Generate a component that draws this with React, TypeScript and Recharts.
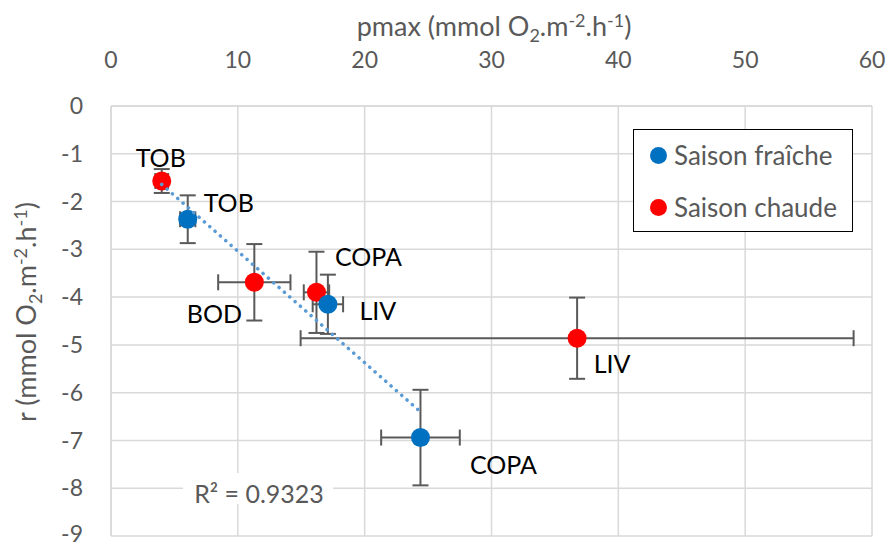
import { CartesianGrid, ErrorBar, Scatter, ScatterChart, XAxis, YAxis } from 'recharts';

// Saison fraîche
const fraicheSites = ['TOB', 'LIV', 'COPA'];
const fraichePmax = [6.05, 17.1, 24.4];
const fraicheR = [-2.37, -4.15, -6.94];
const fraichePmaxErr = [0.6, 1.2, 3.1];
const fraicheRErr = [0.5, 0.62, 1.0];

// Saison chaude
const chaudeSites = ['TOB', 'BOD', 'COPA', 'LIV'];
const chaudePmax = [4.0, 11.3, 16.2, 36.75];
const chaudeR = [-1.57, -3.69, -3.9, -4.86];
const chaudePmaxErr = [0.5, 2.85, 1.0, 21.8];
const chaudeRErr = [0.25, 0.8, 0.85, 0.85];

// linear trend (end points)
const trendPmax = [4.0, 24.4];
const trendR = [-1.64, -6.4];
const r2Label = 'R² = 0.9323';

const xTicks = [0, 10, 20, 30, 40, 50, 60];
const yTicks = [0, -1, -2, -3, -4, -5, -6, -7, -8, -9];

// label placement relative to the marker (px)
const fraicheLabelOffsets = [[41, -17], [50, 6], [83, 26]];
const chaudeLabelOffsets = [[-1, -24], [-40, 31], [52, -36], [35, 25]];

const FONT = 'Lato, "Noto Sans", sans-serif';
const TEXT = '#595959';
const BLUE = '#0070C0';
const RED = '#FF0000';

const fraicheData = fraicheSites.map((site, i) => ({
	site,
	x: fraichePmax[i],
	y: fraicheR[i],
	ex: fraichePmaxErr[i],
	ey: fraicheRErr[i],
}));
const chaudeData = chaudeSites.map((site, i) => ({
	site,
	x: chaudePmax[i],
	y: chaudeR[i],
	ex: chaudePmaxErr[i],
	ey: chaudeRErr[i],
}));
const trendData = trendPmax.map((x, i) => ({ x, y: trendR[i] }));

const makeShape = (color: string, offsets: number[][]) => (props: any) => {
	const { cx, cy, payload, index } = props;
	const [dx, dy] = offsets[index] ?? [0, 0];
	return (
		<g>
			<circle cx={cx} cy={cy} r={9.5} fill={color} />
			<text
				x={cx + dx}
				y={cy + dy}
				textAnchor='middle'
				dominantBaseline='central'
				fontFamily={FONT}
				fontSize={25}
				fill='#000'>
				{payload.site}
			</text>
		</g>
	);
};

const UnitText = ({ prefix, ...rest }: any) => (
	<text fontFamily={FONT} fontSize={27} fill={TEXT} textAnchor='middle' {...rest}>
		{prefix} (mmol O
		<tspan dy={6} fontSize={18}>2</tspan>
		<tspan dy={-6}>.m</tspan>
		<tspan dy={-9} fontSize={18}>-2</tspan>
		<tspan dy={9}>.h</tspan>
		<tspan dy={-9} fontSize={18}>-1</tspan>
		<tspan dy={9}>)</tspan>
	</text>
);

export default function App() {
	return (
		<div style={{ position: 'relative', width: 890, height: 547 }}>
			<style>{'html,body{margin:0;overflow:hidden}'}</style>
			<ScatterChart width={890} height={547} margin={{ top: 66, right: 18, bottom: 11, left: 51 }}>
				<CartesianGrid stroke='#d9d9d9' strokeWidth={1.5} />
				<XAxis
					type='number'
					dataKey='x'
					orientation='top'
					domain={[0, 60]}
					ticks={xTicks}
					height={40}
					axisLine={{ stroke: '#d9d9d9', strokeWidth: 1.5 }}
					tickLine={false}
					tickSize={0}
					tickMargin={38}
					tick={{ fill: TEXT, fontFamily: FONT, fontSize: 23 }}
					label={{ content: () => <UnitText prefix='pmax' x={494} y={36} /> }}
				/>
				<YAxis
					type='number'
					dataKey='y'
					domain={[-9, 0]}
					ticks={yTicks}
					width={60}
					axisLine={{ stroke: '#d9d9d9', strokeWidth: 1.5 }}
					tickLine={false}
					tickSize={0}
					tickMargin={28}
					tick={{ fill: TEXT, fontFamily: FONT, fontSize: 23 }}
					label={{ content: () => <UnitText prefix='r' x={312} y={36} transform='rotate(-90) translate(-624 0)' /> }}
				/>
				<rect x={183} y={473} width={150} height={31} fill='#fff' />
				<text x={259} y={503} textAnchor='middle' fontFamily={FONT} fontSize={25} fill={TEXT}>
					{r2Label}
				</text>
				<Scatter name='Saison chaude' data={chaudeData} isAnimationActive={false} shape={makeShape(RED, chaudeLabelOffsets)}>
					<ErrorBar dataKey='ex' direction='x' width={8} stroke={TEXT} strokeWidth={2} />
					<ErrorBar dataKey='ey' direction='y' width={8} stroke={TEXT} strokeWidth={2} />
				</Scatter>
				<Scatter name='Saison fraîche' data={fraicheData} isAnimationActive={false} shape={makeShape(BLUE, fraicheLabelOffsets)}>
					<ErrorBar dataKey='ex' direction='x' width={8} stroke={TEXT} strokeWidth={2} />
					<ErrorBar dataKey='ey' direction='y' width={8} stroke={TEXT} strokeWidth={2} />
				</Scatter>
				<Scatter
					data={trendData}
					isAnimationActive={false}
					legendType='none'
					line={{ stroke: '#5B9BD5', strokeWidth: 3.5, strokeDasharray: '0.1 7', strokeLinecap: 'round' }}
					shape={() => <g />}
				/>
			</ScatterChart>
			<div
				style={{
					position: 'absolute',
					left: 633,
					top: 129,
					width: 220,
					height: 103,
					boxSizing: 'border-box',
					border: '1.5px solid #000',
					background: '#fff',
					fontFamily: FONT,
					fontSize: 26,
					color: TEXT,
				}}>
				{[
					{ name: 'Saison fraîche', color: BLUE },
					{ name: 'Saison chaude', color: RED },
				].map((item, i) => (
					<div key={item.name} style={{ position: 'absolute', left: 16, top: 10 + i * 52, height: 30, display: 'flex', alignItems: 'center', whiteSpace: 'nowrap' }}>
						<span style={{ width: 17, height: 17, borderRadius: '50%', background: item.color, marginRight: 7 }} />
						{item.name}
					</div>
				))}
			</div>
		</div>
	);
}
